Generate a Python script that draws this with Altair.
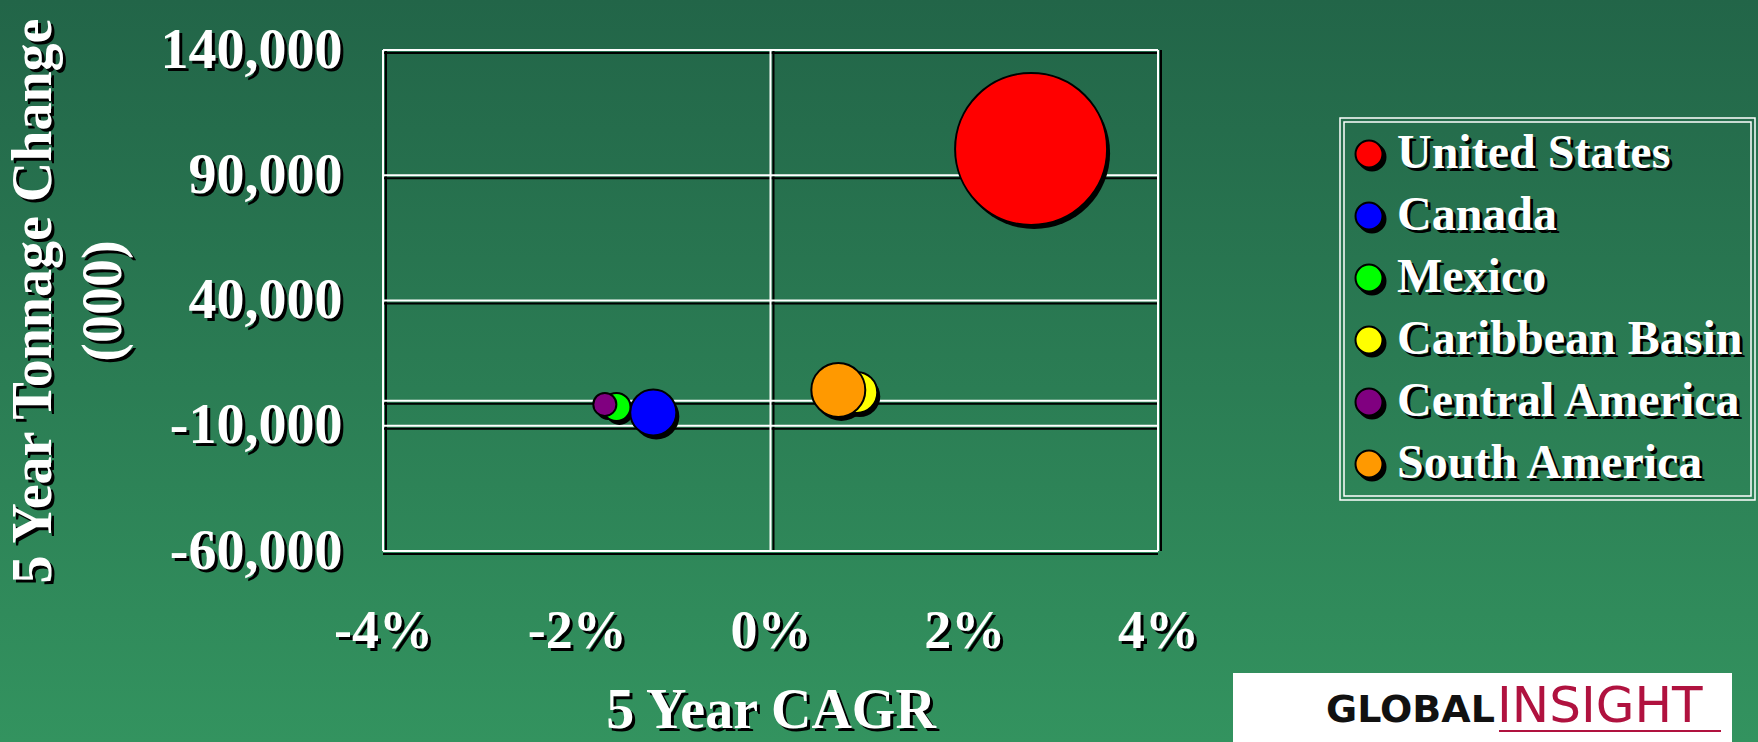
import altair as alt
import pandas as pd

# ---- data ----
regions = ["United States", "Canada", "Mexico", "Caribbean Basin", "Central America", "South America"]
cagr_pct = [2.69, -1.21, -1.59, 0.89, -1.71, 0.70]            # 5 Year CAGR (%)
tonnage_change = [100500, -4700, -2500, 3300, -1500, 4300]     # 5 Year Tonnage Change (000)
bubble_volume = [1000, 92, 34, 73, 23, 126]                    # relative bubble size
region_colors = ["#ff0000", "#0000ff", "#00ff00", "#ffff00", "#800080", "#ff9900"]

y_ticks = [-60000, -10000, 40000, 90000, 140000]
x_ticks = [-4, -2, 0, 2, 4]
h_lines = [-60000, -10000, 0, 40000, 90000, 140000]
v_lines = [-4, 0, 4]

df = pd.DataFrame({"Region": regions, "CAGR": cagr_pct,
                   "Tonnage": tonnage_change, "Volume": bubble_volume})
hdf = pd.DataFrame({"h": h_lines})
vdf = pd.DataFrame({"v": v_lines})
one = pd.DataFrame({"k": [0]})

FONT = "Liberation Serif"
W, H = 775, 501
PL, PT = 383, 50
SH = 3  # text shadow offset
LX, LY = 957, 68

xs = alt.Scale(domain=[-4, 4], nice=False, zero=False)
ys = alt.Scale(domain=[-60000, 140000], nice=False, zero=False)

y_label_expr = "(datum.value < 0 ? '-' : '') + format(abs(datum.value), ',')"
x_label_expr = "datum.value + '%'"


def x_axis(color, dx, dy):
    return alt.Axis(values=x_ticks, labelExpr=x_label_expr, orient="bottom", zindex=1,
                    domain=False, ticks=False, grid=False, labelFlush=False,
                    labelOverlap=False, labelLimit=1000, labelFont=FONT,
                    labelFontWeight="bold", labelFontSize=54, labelColor=color,
                    labelPadding=53 + dy, labelOffset=dx, title="5 Year CAGR",
                    titleFont=FONT, titleFontWeight="bold", titleFontSize=56,
                    titleColor=color, titleX=W / 2 + dx, titleY=176 + dy,
                    titleBaseline="alphabetic", titleAlign="center")


def y_axis(color, dx, dy):
    return alt.Axis(values=y_ticks, labelExpr=y_label_expr, orient="left", zindex=1,
                    domain=False, ticks=False, grid=False, labelFlush=False,
                    labelOverlap=False, labelLimit=1000, labelFont=FONT,
                    labelFontWeight="bold", labelFontSize=56, labelColor=color,
                    labelPadding=41 - dx, labelOffset=dy,
                    title=["5 Year Tonnage Change", "(000)"],
                    titleFont=FONT, titleFontWeight="bold", titleFontSize=56,
                    titleColor=color, titleAngle=270, titleX=50 - PL + dx,
                    titleY=H / 2 + dy, titleBaseline="alphabetic", titleAlign="center",
                    titleLineHeight=70)


def legend(color, x, y, pad, stroke=None, hidden=False):
    kw = dict(title=None, orient="none", legendX=x, legendY=y,
              labelFont=FONT, labelFontWeight="bold", labelFontSize=48,
              labelColor=color, labelLimit=1000, symbolType="circle",
              symbolSize=729, symbolStrokeColor="black", symbolStrokeWidth=2,
              symbolOpacity=0 if hidden else 1, padding=pad, rowPadding=14,
              labelOffset=4, symbolOffset=-7)
    if hidden:
        kw["labelOpacity"] = 0
    if stroke:
        kw["strokeColor"] = stroke
    return alt.Legend(**kw)


bg_grad = alt.LinearGradient(
    gradient="linear",
    stops=[alt.GradientStop(color="#226548", offset=0),
           alt.GradientStop(color="#33935f", offset=1)],
    x1=0, x2=0, y1=0, y2=1)

background = alt.Chart(one).mark_rect(color=bg_grad).encode(
    x=alt.value(-PL), x2=alt.value(1758 - PL), y=alt.value(-PT), y2=alt.value(742 - PT))

h_shadow = alt.Chart(hdf).mark_rule(color="black", strokeWidth=2, yOffset=3).encode(
    y=alt.Y("h:Q", scale=ys, axis=None))
v_shadow = alt.Chart(vdf).mark_rule(color="black", strokeWidth=2, xOffset=3).encode(
    x=alt.X("v:Q", scale=xs, axis=None))
h_rules = alt.Chart(hdf).mark_rule(color="white", strokeWidth=2).encode(
    y=alt.Y("h:Q", scale=ys, axis=None))
v_rules = alt.Chart(vdf).mark_rule(color="white", strokeWidth=2).encode(
    x=alt.X("v:Q", scale=xs, axis=None))

size_scale = alt.Scale(domain=[0, 1000], range=[0, 23104])

# shadow layer: black discs, black text shadows for axes and legend
bubble_shadow = alt.Chart(df).mark_circle(opacity=1, xOffset=3, yOffset=4).encode(
    x=alt.X("CAGR:Q", scale=xs, axis=x_axis("black", SH, SH)),
    y=alt.Y("Tonnage:Q", scale=ys, axis=y_axis("black", SH, SH)),
    size=alt.Size("Volume:Q", scale=size_scale, legend=None),
    fill=alt.Fill("Region:N", sort=regions,
                  scale=alt.Scale(range=["black"] * len(regions)),
                  legend=legend("black", LX + SH, LY + SH, 12)),
)

bubbles = alt.Chart(df).mark_circle(opacity=1, stroke="black", strokeWidth=2).encode(
    x=alt.X("CAGR:Q", scale=xs, axis=x_axis("white", 0, 0)),
    y=alt.Y("Tonnage:Q", scale=ys, axis=y_axis("white", 0, 0)),
    size=alt.Size("Volume:Q", scale=size_scale, legend=None),
    color=alt.Color("Region:N", sort=regions,
                    scale=alt.Scale(domain=regions, range=region_colors),
                    legend=legend("white", LX, LY, 12, stroke="white")),
)

# invisible layer that only provides the inner line of the legend's double frame
legend_frame = alt.Chart(df).transform_calculate(Frame="datum.Region").mark_point(
    opacity=0).encode(
    x=alt.X("CAGR:Q", scale=xs, axis=None),
    y=alt.Y("Tonnage:Q", scale=ys, axis=None),
    shape=alt.Shape("Frame:N", sort=regions,
                    scale=alt.Scale(range=["circle"] * len(regions)),
                    legend=legend("white", LX + 4, LY + 4, 8, stroke="white", hidden=True)),
)

# Logo box (decorative)
logo_box = alt.Chart(one).mark_rect(color="white").encode(
    x=alt.value(850), x2=alt.value(1349), y=alt.value(623), y2=alt.value(700))
logo_global = alt.Chart(one).mark_text(
    text="GLOBAL", font="DejaVu Sans", fontWeight="bold", fontSize=38,
    color="#111111", align="left", baseline="alphabetic").encode(
    x=alt.value(943), y=alt.value(672))
logo_insight = alt.Chart(one).mark_text(
    text="INSIGHT", font="DejaVu Sans", fontWeight="normal", fontSize=50,
    color="#b0123f", align="left", baseline="alphabetic").encode(
    x=alt.value(1114), y=alt.value(672))
logo_line = alt.Chart(one).mark_rule(color="#b0123f", strokeWidth=2).encode(
    x=alt.value(1116), x2=alt.value(1338), y=alt.value(681), y2=alt.value(681))

chart = alt.layer(
    background, h_shadow, v_shadow, h_rules, v_rules, bubble_shadow, bubbles,
    legend_frame, logo_box, logo_global, logo_insight, logo_line
).resolve_axis(x="independent", y="independent").properties(
    width=W, height=H,
    padding={"left": PL, "top": PT, "right": 1758 - PL - W, "bottom": 742 - PT - H},
    autosize=alt.AutoSizeParams(type="none"),
).configure(background="#2b7c55").configure_view(stroke=None).configure_legend(strokeWidth=1.5)

chart.save("out.html", embed_options={"renderer": "svg", "actions": False})
